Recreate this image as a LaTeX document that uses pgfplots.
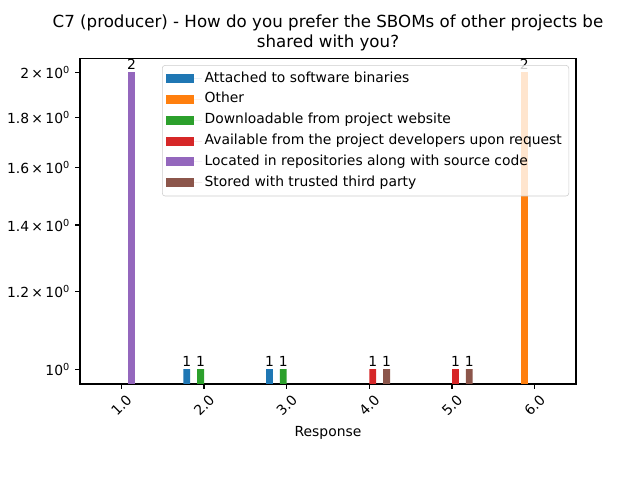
\documentclass[border=0pt]{standalone}
\usepackage{fontspec}
\setmainfont{DejaVu Sans}
\usepackage{pgfplots}
\pgfplotsset{compat=1.18}
\definecolor{c1}{HTML}{1F77B4}
\definecolor{c2}{HTML}{FF7F0E}
\definecolor{c3}{HTML}{2CA02C}
\definecolor{c4}{HTML}{D62728}
\definecolor{c5}{HTML}{9467BD}
\definecolor{c6}{HTML}{8C564B}
\begin{document}
\begin{tikzpicture}
\useasboundingbox (0,0) rectangle (460.8pt,345.6pt);
\begin{axis}[
  at={(57.6pt,69.12pt)}, anchor=south west,
  scale only axis, width=357.12pt, height=234.5pt,
  ymode=log, log origin=infty,
  xmin=0.5, xmax=6.5, ymin=0.966, ymax=2.066,
  ybar=0pt, bar width=0.08333,
  clip mode=individual,
  xtick={1,2,3,4,5,6},
  xticklabels={\rotatebox{45}{1.0},\rotatebox{45}{2.0},\rotatebox{45}{3.0},\rotatebox{45}{4.0},\rotatebox{45}{5.0},\rotatebox{45}{6.0}},
  xticklabel style={anchor=north, inner sep=0pt, yshift=-3.5pt},
  ytick={1,1.2,1.4,1.6,1.8,2},
  yticklabels={10\textsuperscript{0},1.2\,×\,10\textsuperscript{0},1.4\,×\,10\textsuperscript{0},1.6\,×\,10\textsuperscript{0},1.8\,×\,10\textsuperscript{0},2\,×\,10\textsuperscript{0}},
  yticklabel style={anchor=east, inner sep=0pt, xshift=-3.5pt},
  yminorticks=false, xminorticks=false,
  tick align=outside, tick pos=left, major tick length=3.5pt,
  tick style={black, line width=0.8pt},
  axis line style={line width=0.8pt},
  ticklabel style={font=\fontsize{10}{12}\selectfont},
  xlabel={Response},
  xlabel style={font=\fontsize{10}{12}\selectfont, yshift=-3pt},
  title={C7 (producer) - How do you prefer the SBOMs of other projects be\\shared with you?},
  title style={font=\fontsize{12}{14.4}\selectfont, align=center, yshift=-4.3pt},
  nodes near coords,
  point meta=explicit symbolic,
  every node near coord/.append style={font=\fontsize{10}{12}\selectfont, inner sep=1.5pt, black},
  legend cell align=left,
  legend image code/.code={\fill[#1, sharp corners, fill opacity=1] (0pt,-3.25pt) rectangle (20pt,3.25pt); \path (0pt,0pt) -- (25.5pt,0pt);},
  legend style={at={(rel axis cs:0.986,0.979)}, anchor=north east,
    font=\fontsize{10}{12}\selectfont,
    fill=white, fill opacity=0.8, text opacity=1, draw opacity=1, draw=black!20,
    rounded corners=2pt,
    nodes={text height=7.5pt, text depth=2.5pt, inner ysep=2.5pt}},
]
\addplot[fill=c1, draw=none] coordinates {(2,1)[1] (3,1)[1]};
\addlegendentry{Attached to software binaries}
\addplot[fill=c2, draw=none] coordinates {(6,2)[2]};
\addlegendentry{Other}
\addplot[fill=c3, draw=none] coordinates {(2,1)[1] (3,1)[1]};
\addlegendentry{Downloadable from project website}
\addplot[fill=c4, draw=none] coordinates {(4,1)[1] (5,1)[1]};
\addlegendentry{Available from the project developers upon request}
\addplot[fill=c5, draw=none] coordinates {(1,2)[2]};
\addlegendentry{Located in repositories along with source code}
\addplot[fill=c6, draw=none] coordinates {(4,1)[1] (5,1)[1]};
\addlegendentry{Stored with trusted third party}
\end{axis}
\end{tikzpicture}
\end{document}
